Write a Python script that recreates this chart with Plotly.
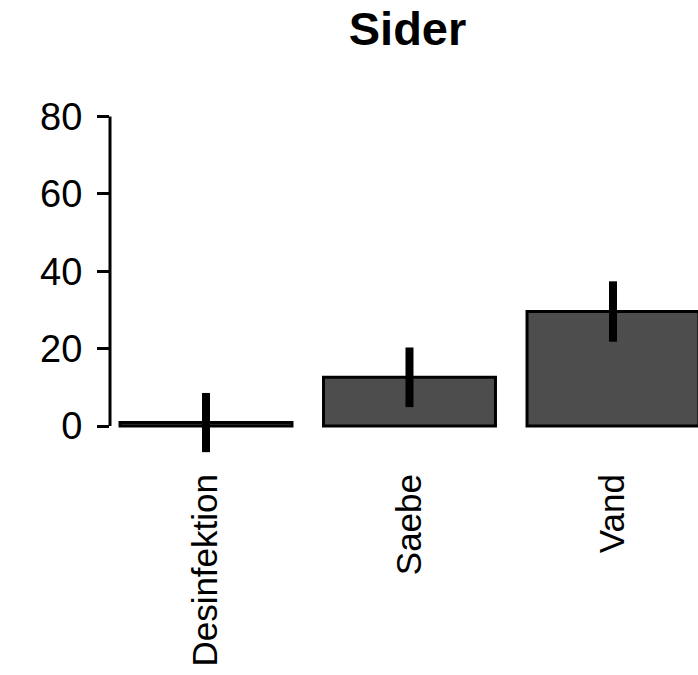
import plotly.graph_objects as go

categories = ["Desinfektion", "Saebe", "Vand"]
means = [0.9, 12.6, 29.6]
errors = [7.65, 7.7, 7.8]
y_ticks = [0, 20, 40, 60, 80]
title_text = "Sider"

fig = go.Figure()
fig.add_trace(go.Bar(
    x=list(range(len(categories))),
    y=means,
    width=0.845,
    marker=dict(color="#4d4d4d", line=dict(color="black", width=3)),
    error_y=dict(type="data", array=errors, color="black", thickness=8, width=0, visible=True),
    showlegend=False,
))

fig.update_layout(
    width=698, height=675,
    margin=dict(l=110, r=0, t=100.5, b=218, autoexpand=False),
    plot_bgcolor="white", paper_bgcolor="white",
    title=dict(text="<b>" + title_text + "</b>", x=407.5 / 698, xref="container",
               xanchor="center", y=1 - 29 / 675, yanchor="middle", automargin=False,
               font=dict(family="Liberation Sans", size=47, color="black")),
    font=dict(family="Liberation Sans", color="black"),
)
fig.update_xaxes(
    range=[-0.4717, 2.4177], automargin=False,
    tickmode="array", tickvals=list(range(len(categories))), ticktext=categories,
    tickangle=-90, ticks="", showline=False, showgrid=False, zeroline=False,
    tickfont=dict(family="Liberation Sans", size=35, color="black"),
    ticklabelstandoff=9,
)
fig.update_yaxes(
    range=[-8, 84], automargin=False,
    tickmode="array", tickvals=y_ticks, ticktext=[str(v) for v in y_ticks],
    ticks="outside", ticklen=12, tickwidth=2.5, tickcolor="black",
    showline=False, showgrid=False, zeroline=False,
    tickfont=dict(family="Liberation Sans", size=38, color="black"),
    ticklabelstandoff=7,
)
fig.add_shape(type="line", xref="paper", yref="y", x0=0, x1=0, y0=y_ticks[0], y1=y_ticks[-1],
              line=dict(color="black", width=3))

fig.write_html("out.html", config={"displayModeBar": False},
               post_script="document.body.style.margin='0';document.body.style.overflow='hidden';")
